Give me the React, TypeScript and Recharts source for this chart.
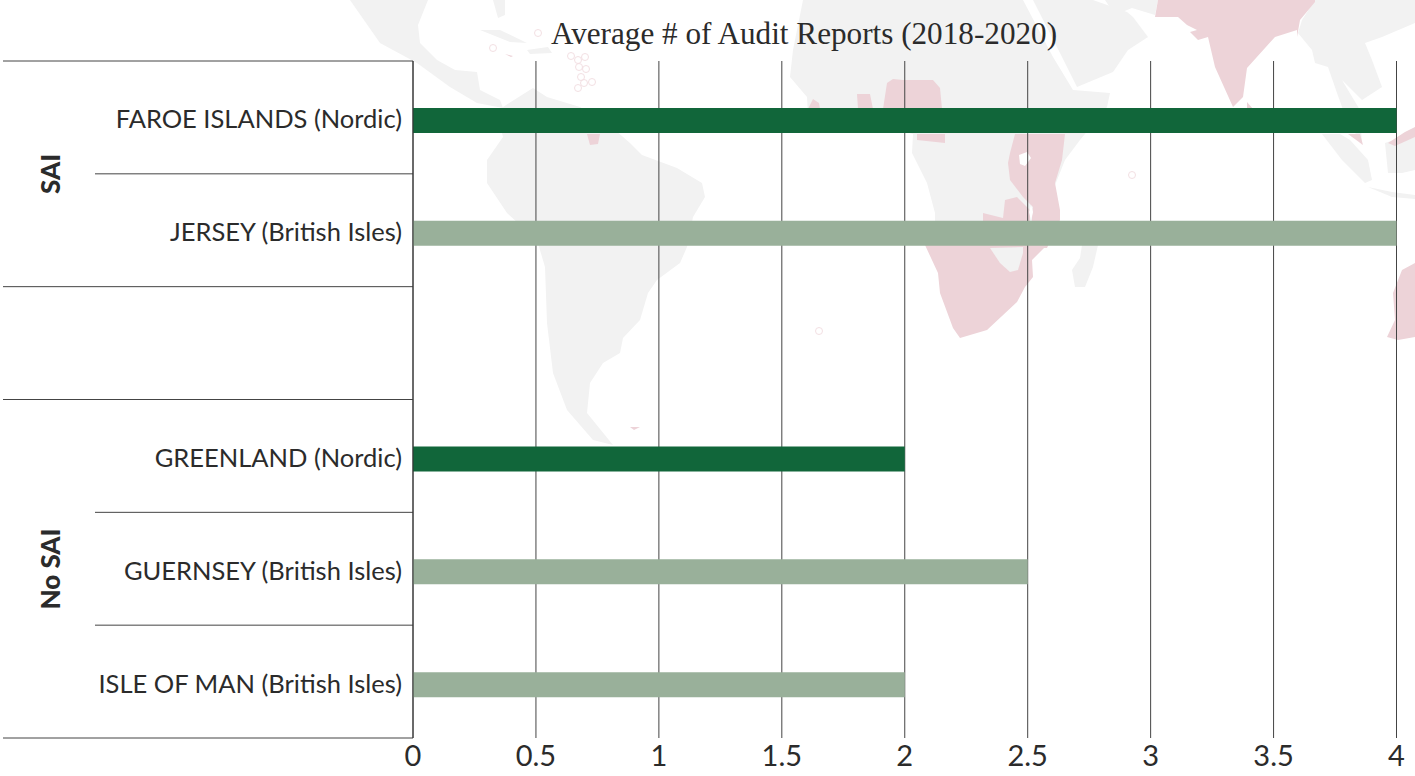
import { BarChart, Bar, Cell, CartesianGrid, Customized, XAxis, YAxis } from "recharts";

const countries = ["FAROE ISLANDS (Nordic)", "JERSEY (British Isles)", " ", "GREENLAND (Nordic)", "GUERNSEY (British Isles)", "ISLE OF MAN (British Isles)"];
const reports = [4, 4, null, 2, 2.5, 2];
const regions = ["Nordic", "British Isles", "", "Nordic", "British Isles", "British Isles"];
const xTicks = [0, 0.5, 1, 1.5, 2, 2.5, 3, 3.5, 4];
const title = "Average # of Audit Reports (2018-2020)";

// backdrop world map, rough outlines only
const grayLand = [
  // central america, florida, cuba, hispaniola
  "350,0 380,43 417,63 450,87 477,103 503,108 500,100 480,90 477,72 455,70 437,60 420,43 418,25 428,0",
  "493,0 505,0 505,15 498,18",
  "480,30 500,30 527,43 510,42",
  "527,50 548,47 552,53 530,54",
  // south america
  "503,107 533,88 547,97 580,107 607,123 630,143 642,155 677,168 702,183 705,197 693,217 687,247 680,263 657,280 648,293 640,320 623,338 620,353 603,363 590,383 587,413 613,445 593,440 567,410 553,373 547,323 545,267 537,240 507,213 487,183 487,160 503,137 497,113",
  // africa
  "803,0 793,50 790,77 807,97 808,115 880,125 913,134 912,153 927,183 935,213 935,248 1030,248 1065,160 1080,140 1107,107 1110,93 1073,90 1053,57 1023,0",
  "1100,220 1098,245 1093,267 1085,287 1075,287 1072,270 1080,258 1082,245",
  // arabia, iran
  "1033,0 1060,53 1077,87 1113,72 1128,50 1148,37 1133,17 1127,12 1093,0",
  "1105,0 1158,0 1155,15 1132,8 1115,15",
  // asia
  "1242,0 1290,0 1270,8",
  "1315,0 1302,20 1298,33 1312,50 1315,63 1328,67 1337,93 1345,115 1362,145 1360,110 1342,80 1362,100 1382,87 1372,60 1365,43 1382,37 1415,23 1415,0",
  "1322,134 1342,160 1365,183 1372,180 1368,160 1350,140 1340,134",
  "1368,187 1392,192 1415,195 1415,199 1392,197",
  "1385,143 1388,173 1402,173 1415,170 1415,133",
];
const pinkLand = [
  // india, sri lanka
  "1158,0 1155,17 1178,17 1187,25 1197,30 1190,32 1198,40 1208,37 1215,67 1233,107 1243,97 1247,68 1275,37 1297,30 1297,37 1300,20 1315,2 1315,0",
  "1247,102 1253,109 1247,109",
  // southern and eastern africa
  "925,245 938,273 940,293 953,328 960,338 987,330 1017,302 1025,287 1033,277 1032,260 1047,245",
  "1015,134 1065,134 1062,160 1055,183 1060,210 1060,220 1047,248 1030,248 1032,218 1033,207 1023,197 1010,180 1008,163 1010,153",
  "1005,200 1017,197 1030,210 1030,248 983,248 983,213 1003,218",
  // west and central africa
  "857,94 870,94 873,109 858,109",
  "887,83 893,79 903,80 933,80 940,88 942,109 883,109",
  "917,134 945,134 945,143 917,140",
  "808,109 813,99 819,103 820,109",
  // guyana, caribbean, falklands
  "587,134 600,134 598,144 590,145",
  "505,54 513,56 511,57",
  "630,427 640,427 634,430",
  // malaysia, borneo, australia
  "1348,134 1360,134 1363,145",
  "1388,143 1395,146 1415,137 1415,127 1405,132",
  "1415,263 1402,270 1393,293 1395,320 1387,337 1398,340 1415,337",
];
const grayOverPink = ["990,248 1000,263 1010,272 1018,270 1023,253 1023,247"];
const whiteLakes = ["1019,155 1027,152 1031,158 1025,166 1020,164", "1031,205 1033,212 1031,220 1029,212"];
const islets = [
  "571,56", "578,60", "585,57", "579,67", "586,69", "581,77", "592,82", "584,83", "578,88", "538,33", "493,48", "819,331", "1132,175",
];

const PLOT_LEFT = 413;
const PLOT_TOP = 61;
const PLOT_BOTTOM = 738;
const ROW = (PLOT_BOTTOM - PLOT_TOP) / 6;
const SANS = "Lato, sans-serif";
const INK = "#2b2b2b";

function Decorations() {
  const rows = [0, 1, 2, 3, 4, 5, 6];
  const fullWidth = [0, 2, 3, 6];
  return (
    <g>
      {rows.map((r) => (
        <line
          key={r}
          x1={fullWidth.includes(r) ? 3 : 95}
          x2={PLOT_LEFT}
          y1={PLOT_TOP + r * ROW}
          y2={PLOT_TOP + r * ROW}
          stroke="#444"
          strokeWidth={1}
        />
      ))}
      <text x={804} y={44} textAnchor="middle" fontFamily="'Liberation Serif', serif" fontSize={31.2} fill={INK}>
        {title}
      </text>
      <text transform="translate(60,174) rotate(-90)" textAnchor="middle" fontFamily={SANS} fontWeight={900} fontSize={26} fill={INK}>
        SAI
      </text>
      <text transform="translate(60,569) rotate(-90)" textAnchor="middle" fontFamily={SANS} fontWeight={900} fontSize={26} fill={INK}>
        No SAI
      </text>
    </g>
  );
}

export default function App() {
  const data = countries.map((name, i) => ({ name, value: reports[i], region: regions[i] }));

  return (
    <div style={{ position: "absolute", left: 0, top: 0, width: 1415, height: 776, overflow: "hidden", background: "#fff" }}>
      <svg width={1415} height={776} style={{ position: "absolute", left: 0, top: 0 }}>
        {grayLand.map((p) => <polygon key={p} points={p} fill="#f2f2f2" />)}
        {pinkLand.map((p) => <polygon key={p} points={p} fill="#edd3d8" />)}
        {grayOverPink.map((p) => <polygon key={p} points={p} fill="#f2f2f2" />)}
        {whiteLakes.map((p) => <polygon key={p} points={p} fill="#fff" />)}
        {islets.map((p) => {
          const [x, y] = p.split(",").map(Number);
          return <circle key={p} cx={x} cy={y} r={3.5} fill="none" stroke="#f3e0e3" strokeWidth={1} />;
        })}
      </svg>
      <div style={{ position: "absolute", left: 0, top: 0 }}>
        <BarChart
          width={1415}
          height={776}
          data={data}
          layout="vertical"
          margin={{ top: PLOT_TOP, right: 18.5, bottom: 0, left: 0 }}
        >
          <CartesianGrid horizontal={false} stroke="#444" strokeWidth={1} />
          <XAxis
            type="number"
            domain={[0, 4]}
            ticks={xTicks}
            interval={0}
            height={776 - PLOT_BOTTOM}
            axisLine={false}
            tickLine={false}
            tickMargin={1}
            tick={{ fontFamily: SANS, fontSize: 29, fill: INK }}
          />
          <YAxis
            type="category"
            dataKey="name"
            width={PLOT_LEFT}
            padding={{ top: 3, bottom: -3 }}
            interval={0}
            axisLine={{ stroke: "#333" }}
            tickLine={false}
            tickMargin={11}
            tickSize={0}
            tick={{ fontFamily: SANS, fontSize: 25.5, fill: INK, dy: -1 }}
          />
          <Bar dataKey="value" barSize={25} isAnimationActive={false}>
            {data.map((d) => (
              <Cell key={d.name} fill={d.region === "Nordic" ? "#11663a" : "#99b09a"} />
            ))}
          </Bar>
          <Customized component={Decorations} />
        </BarChart>
      </div>
    </div>
  );
}
